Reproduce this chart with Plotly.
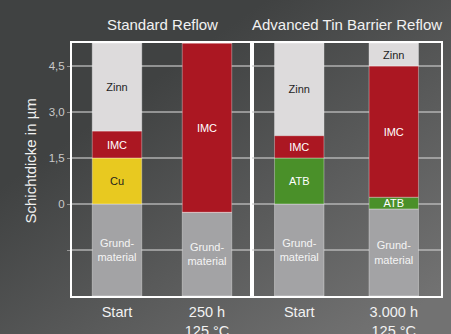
import base64
import numpy as np
import plotly.graph_objects as go
from plotly.subplots import make_subplots

# ---------------- data ----------------
panel_titles = ["Standard Reflow", "Advanced Tin Barrier Reflow"]
y_title = "Schichtdicke in µm"
cats_left = ["Start", "250 h<br>125 °C"]
cats_right = ["Start", "3.000 h<br>125 °C"]

y_bottom = -3.0
y_top = 5.25

# layer thicknesses (µm), bottom to top
grund_left = [3.0, 2.73]
cu_left = [1.5, 0.0]
imc_left = [0.88, 5.52]
zinn_left = [2.87, 0.0]

grund_right = [3.0, 2.84]
atb_right = [1.5, 0.38]
imc_right = [0.73, 4.28]
zinn_right = [3.02, 0.75]

tick_vals = [-1.5, 0, 1.5, 3.0, 4.5]
tick_text = ["", "0", "1,5", "3,0", "4,5"]

# ---------------- styles ----------------
FONT = "Liberation Sans, Arial, Helvetica, sans-serif"
layer_style = {
    "Grund": dict(color="#a3a3a5", text="Grund-<br>material", tcolor="#f4f4f4"),
    "Cu": dict(color="#e8c920", text="Cu", tcolor="#1e1e1e"),
    "ATB": dict(color="#4a9029", text="ATB", tcolor="#ffffff"),
    "IMC": dict(color="#ab1722", text="IMC", tcolor="#ffffff"),
    "Zinn": dict(color="#dddbdc", text="Zinn", tcolor="#1e1e1e"),
}

fig = make_subplots(rows=1, cols=2, shared_yaxes=True, horizontal_spacing=0,
                    column_widths=[180, 189])


def add_stack(cats, layers, col, width):
    base = np.full(len(cats), y_bottom)
    for name, vals in layers:
        vals = np.array(vals, dtype=float)
        st = layer_style[name]
        fig.add_trace(go.Bar(
            x=cats, y=vals, base=base.copy(), width=width,
            marker=dict(color=st["color"], line=dict(color="rgba(255,255,255,0.35)", width=1)),
            text=[st["text"] if v > 0 else "" for v in vals],
            textposition="inside", insidetextanchor="middle", textangle=0,
            textfont=dict(family=FONT, size=11, color=st["tcolor"]),
            showlegend=False, hoverinfo="skip", cliponaxis=True,
        ), row=1, col=col)
        base = base + vals


add_stack(cats_left, [("Grund", grund_left), ("Cu", cu_left),
                      ("IMC", imc_left), ("Zinn", zinn_left)], 1, 0.55)
add_stack(cats_right, [("Grund", grund_right), ("ATB", atb_right),
                       ("IMC", imc_right), ("Zinn", zinn_right)], 2, 0.523)

# background gradient
svg = ('<svg xmlns="http://www.w3.org/2000/svg" width="451" height="334" preserveAspectRatio="none">'
       '<defs><linearGradient id="g" x1="0.38" y1="0.2" x2="1" y2="0.85">'
       '<stop offset="0" stop-color="#404242"/><stop offset="1" stop-color="#727272"/>'
       '</linearGradient></defs><rect width="451" height="334" fill="url(#g)"/></svg>')
src = "data:image/svg+xml;base64," + base64.b64encode(svg.encode()).decode()

W, H = 451, 334
ML, MR, MT, MB = 72, 10, 43, 38
pw, ph = W - ML - MR, H - MT - MB

fig.update_layout(
    width=W, height=H,
    margin=dict(l=ML, r=MR, t=MT, b=MB, autoexpand=False),
    barmode="overlay",
    paper_bgcolor="#4a4b4b",
    plot_bgcolor="rgba(0,0,0,0)",
    uniformtext=dict(minsize=11, mode="show"),
    images=[dict(source=src, xref="paper", yref="paper",
                 x=-ML / pw, y=1 + MT / ph, sizex=W / pw, sizey=H / ph,
                 xanchor="left", yanchor="top", sizing="stretch", layer="below")],
    font=dict(family=FONT, color="#f0f0f0"),
)

for i, t in enumerate(panel_titles):
    fig.add_annotation(text=t, xref=("x domain" if i == 0 else "x2 domain"), x=0.5,
                       yref="paper", y=1, yanchor="middle", yshift=19, showarrow=False,
                       font=dict(family=FONT, size=15, color="#f2f2f2"))

fig.add_annotation(text=y_title, textangle=-90, xref="paper", yref="paper",
                   x=(29.5 - ML) / pw, y=(H - MB - 161) / ph, xanchor="center", yanchor="middle",
                   showarrow=False, font=dict(family=FONT, size=15, color="#f0f0f0"))

xcommon = dict(showline=True, mirror=True, linecolor="white", linewidth=2,
               showgrid=False, ticks="", zeroline=False, automargin=False,
               ticklabelstandoff=2,
               tickfont=dict(family=FONT, size=14.5, color="#f2f2f2"))
fig.update_xaxes(**xcommon)

ycommon = dict(range=[y_bottom, y_top], tickvals=tick_vals, ticktext=tick_text,
               showgrid=True, gridcolor="rgba(200,200,200,0.6)", gridwidth=1.5,
               showline=True, mirror=True, linecolor="white", linewidth=2,
               zeroline=False, automargin=False)
fig.update_yaxes(**ycommon)
fig.update_yaxes(row=1, col=1, ticks="outside", ticklen=3, tickcolor="rgba(200,200,200,0.6)",
                 tickfont=dict(family=FONT, size=11.5, color="#cacaca"))
fig.update_yaxes(row=1, col=2, showticklabels=False, ticks="")

fig.write_html("out.html")
